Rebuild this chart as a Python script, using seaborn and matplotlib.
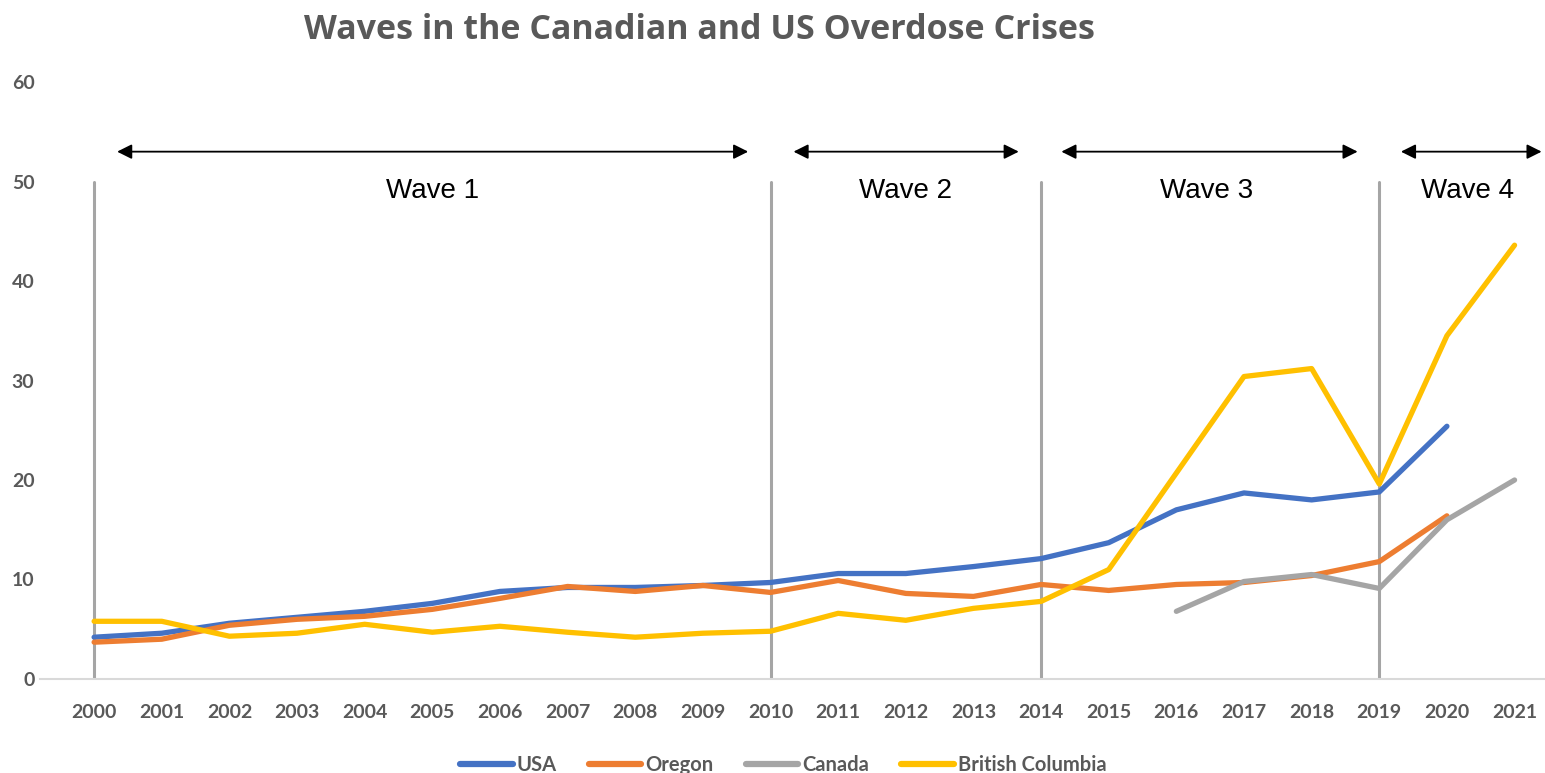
import numpy as np
import pandas as pd
import matplotlib
matplotlib.use("Agg")
import matplotlib.pyplot as plt
import seaborn as sns

years = list(range(2000, 2022))
usa = [4.2, 4.6, 5.6, 6.2, 6.8, 7.6, 8.8, 9.2, 9.2, 9.4, 9.7, 10.6, 10.6, 11.3, 12.1, 13.7,
       17.0, 18.7, 18.0, 18.8, 25.4, np.nan]
oregon = [3.7, 4.0, 5.4, 6.0, 6.3, 7.0, 8.1, 9.3, 8.8, 9.4, 8.7, 9.9, 8.6, 8.3, 9.5, 8.9,
          9.5, 9.7, 10.4, 11.8, 16.4, np.nan]
canada = [np.nan] * 16 + [6.8, 9.8, 10.5, 9.1, 16.0, 20.0]
bc = [5.8, 5.8, 4.3, 4.6, 5.5, 4.7, 5.3, 4.7, 4.2, 4.6, 4.8, 6.6, 5.9, 7.1, 7.8, 11.0,
      20.7, 30.4, 31.2, 19.6, 34.5, 43.6]
series_names = ["USA", "Oregon", "Canada", "British Columbia"]
colors = ["#4472C4", "#ED7D31", "#A5A5A5", "#FFC000"]
wave_bounds = [2000, 2010, 2014, 2019]
wave_labels = ["Wave 1", "Wave 2", "Wave 3", "Wave 4"]
wave_label_x = [2005.0, 2012.0, 2016.45, 2020.3]
wave_arrows = [(2000.34, 2009.67), (2010.34, 2013.67), (2014.3, 2018.68), (2019.32, 2021.4)]

df = pd.DataFrame({"Year": years * 4,
                   "Value": usa + oregon + canada + bc,
                   "Series": sum([[n] * len(years) for n in series_names], [])})
df = df.dropna()

sns.set_theme(style="white")
plt.rcParams["font.family"] = ["Lato", "DejaVu Sans"]

fig = plt.figure(figsize=(15.45, 7.73), dpi=100)
ax = fig.add_axes([40 / 1545, 1 - 679 / 773, 1 - 40 / 1545, (679 - 82) / 773])

for xb in wave_bounds:
    ax.plot([xb, xb], [0, 50], color="#A5A5A5", lw=2.2, zorder=1)

sns.lineplot(data=df, x="Year", y="Value", hue="Series", hue_order=series_names,
             palette=colors, linewidth=3.8, ax=ax, zorder=3, sort=True)

for (x0, x1) in wave_arrows:
    ax.annotate("", xy=(x1, 53), xytext=(x0, 53),
                arrowprops=dict(arrowstyle="<|-|>", color="black", lw=1.3,
                                mutation_scale=22, shrinkA=0, shrinkB=0),
                annotation_clip=False)
for lab, xl in zip(wave_labels, wave_label_x):
    ax.text(xl, 49, lab, ha="center", va="center", fontsize=20, color="black",
            family=["Liberation Sans", "DejaVu Sans"])

ax.set_xlim(1999.2, 2021.45)
ax.set_ylim(0, 60)
ax.set_xticks(years)
ax.set_xticklabels([str(y) for y in years])
ax.set_yticks(range(0, 61, 10))
ax.set_xlabel("")
ax.set_ylabel("")
for s in ["top", "right", "left"]:
    ax.spines[s].set_visible(False)
ax.spines["bottom"].set_color("#D9D9D9")
ax.spines["bottom"].set_linewidth(1.5)
ax.tick_params(axis="both", length=0, labelsize=14, labelcolor="#595959")
ax.tick_params(axis="x", pad=18)
ax.tick_params(axis="y", pad=4)
for t in ax.get_xticklabels() + ax.get_yticklabels():
    t.set_fontweight("bold")

handles, labels = ax.get_legend_handles_labels()
ax.get_legend().remove()
leg = fig.legend(handles, labels, loc="lower center", ncol=4, frameon=False,
                 bbox_to_anchor=(0.507, -0.026), handlelength=2.6, handletextpad=0.2,
                 columnspacing=1.6, prop={"family": "Lato", "weight": "bold", "size": 14.5})
for t in leg.get_texts():
    t.set_color("#595959")
for h in leg.legend_handles:
    h.set_linewidth(4.5)
    h.set_solid_capstyle("round")

fig.text(0.453, 1 - 30 / 773, "Waves in the Canadian and US Overdose Crises", ha="center",
         va="center", fontsize=24.5, fontweight="bold", color="#595959",
         family=["Open Sans", "DejaVu Sans"])

fig.savefig("out.png", dpi=100, facecolor="white")
